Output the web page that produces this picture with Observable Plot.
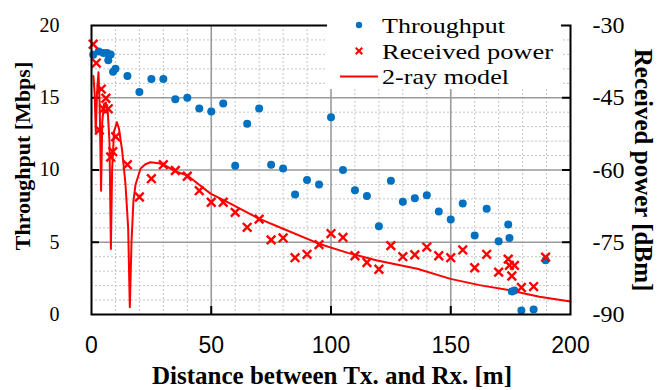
<!DOCTYPE html>
<html><head><meta charset="utf-8">
<script src="https://cdn.jsdelivr.net/npm/d3@7"></script>
<script src="https://cdn.jsdelivr.net/npm/@observablehq/plot@0.6"></script>
<style>body{margin:0;background:#fff}#chart{width:658px;height:390px}</style>
</head><body><div id="chart"></div>
<script>
// Throughput measurements [m], [Mbps]
const tpDist = [0.7,3,5,6.5,8,7,9,10,15,20,25,30,35,40,45,50,55,60,65,70,75,80,85,90,95,100,105,110,115,120,125,130,135,140,145,150,155,160,165,170,174,174.5,175.5,176.6,179.5,184.6,189.6];
const tpMbps = [17.97,18.2,18.1,18.1,18.0,17.6,16.8,17.0,16.5,15.4,16.3,16.3,14.9,15.0,14.25,14.05,14.6,10.3,13.2,14.25,10.36,10.1,8.3,9.3,9.0,13.65,10.0,8.6,8.2,6.1,9.25,7.8,8.05,8.26,7.13,6.57,7.68,5.47,7.31,5.07,6.23,5.3,1.6,1.66,0.28,0.35,3.76];
// Received power measurements [m], [dBm]
const rpDist = [0.7,2,3.3,4.1,5.0,6.0,7.0,8.0,8.9,10.1,15,20,25,30,35,40,45,50,55,60,65,70,75,80,85,90,95,100,105,110,115,120,125,130,135,140,145,150,155,160,165,170,174,174.5,176.6,175.5,179.5,184.6,189.6];
const rpDbm = [-33.9,-37.8,-51.7,-43.2,-47.3,-45.1,-47.3,-57.3,-56.2,-53.1,-58.9,-65.6,-61.8,-58.9,-60.1,-61.3,-64.3,-66.7,-66.7,-68.8,-71.9,-70.2,-74.5,-74.1,-78.2,-77.5,-75.5,-73.2,-74.0,-77.8,-79.2,-80.6,-75.7,-78.0,-77.6,-76.0,-77.8,-78.2,-76.6,-80.3,-77.5,-81.2,-78.5,-79.8,-79.8,-82.0,-84.4,-84.2,-78.1];
// 2-ray model curve [m], [dBm]
const modelDist = [0.8,1.3,1.8,2.3,2.9,3.4,4.0,4.5,5.2,6.0,6.8,7.5,8.1,8.6,9.4,10.6,11.5,12.8,14.2,15.3,16.0,16.7,17.5,18.4,20.5,22.5,24.6,28.1,30.2,35,39.9,49.7,58,69.9,80,94.9,107,119.3,136,149.9,162,175,187,200];
const modelDbm = [-40.5,-44,-52,-44,-39.7,-46,-64.3,-50,-46.3,-46.0,-48,-54,-76.4,-60,-52,-50.1,-51.5,-56,-63,-72,-88.5,-75,-66.5,-63,-59.7,-58.8,-58.4,-58.6,-58.9,-60.3,-61.1,-64.9,-67.0,-70.1,-72.2,-75.3,-77.2,-78.8,-80.5,-82.6,-83.9,-85.0,-86.3,-87.3];
// Axes
const xTicks = [0,50,100,150,200];
const yLeftTicks = [0,5,10,15,20];
const yRightTicks = [-90,-75,-60,-45,-30];
const xMinor = [10,20,30,40,60,70,80,90,110,120,130,140,160,170,180,190];
const yMinor = [1,2,3,4,6,7,8,9,11,12,13,14,16,17,18,19];
const xMajor = [50,100,150];
const yMajor = [5,10,15];
// Legend
const legendLabels = ["Throughput", "Received power", "2-ray model"];

const toLeft = p => (p + 90) / 3; // dBm -> throughput-axis position
const tp = tpDist.map((x,i) => ({x, y: tpMbps[i]}));
const rp = rpDist.map((x,i) => ({x, y: toLeft(rpDbm[i])}));
const model = modelDist.map((x,i) => ({x, y: toLeft(modelDbm[i])}));
const rightPos = yRightTicks.map(toLeft);
const rightLabel = new Map(rightPos.map((p,i) => [p, String(yRightTicks[i])]));

const W = 658, H = 390, mL = 91, mR = 88, mT = 25, mB = 76;
const pw = W - mL - mR, ph = H - mT - mB;
const blue = "#0070C0", red = "#FF0000";
const serif = "'Liberation Serif', 'Times New Roman', serif";

const svg = Plot.plot({
  width: W, height: H,
  marginLeft: mL, marginRight: mR, marginTop: mT, marginBottom: mB,
  x: {domain: [0, 200]},
  y: {domain: [0, 20]},
  style: {background: "white", fontFamily: serif, color: "black"},
  marks: [
    Plot.ruleY(yMinor, {stroke: "#c4c4c4", strokeWidth: 1, strokeDasharray: "2,2"}),
    Plot.ruleX(xMinor, {stroke: "#c4c4c4", strokeWidth: 1, strokeDasharray: "2,2"}),
    Plot.ruleY(yMajor, {stroke: "#9a9a9a", strokeWidth: 1.6}),
    Plot.ruleX(xMajor, {stroke: "#9a9a9a", strokeWidth: 1.6}),
    Plot.ruleX(xMajor, {insetTop: ph - 8, stroke: "black", strokeWidth: 2}),
    Plot.ruleY(yMajor, {insetRight: pw - 8, stroke: "black", strokeWidth: 2}),
    Plot.ruleY(yMajor, {insetLeft: pw - 8, stroke: "black", strokeWidth: 2}),
    Plot.axisX(xTicks, {tickSize: 0, tickPadding: 22, fontSize: 23, fontFamily: "'Liberation Sans', Arial, sans-serif", label: null}),
    Plot.axisY(yLeftTicks, {anchor: "left", tickSize: 0, tickPadding: 32, fontSize: 20, fontFamily: serif, label: null}),
    Plot.axisY(rightPos, {anchor: "right", tickSize: 0, tickPadding: 22, fontSize: 24, fontFamily: serif, tickFormat: d => rightLabel.get(d), label: null}),
    Plot.line(model, {x: "x", y: "y", stroke: red, strokeWidth: 2, curve: "linear"}),
    Plot.dot(tp, {x: "x", y: "y", r: 4, fill: blue}),
    Plot.dot(rp, {x: "x", y: "y", symbol: "times", r: 4, stroke: red, strokeWidth: 2.4}),
    Plot.frame({stroke: "black", strokeWidth: 2})
  ]
});

const s = d3.select(svg);
// Axis titles
s.append("text").attr("transform", "translate(30,156) rotate(-90)")
  .attr("text-anchor", "middle").attr("font-family", serif).attr("font-weight", "bold")
  .attr("font-size", 22).attr("fill", "black").text("Throughput [Mbps]");
s.append("text").attr("transform", "translate(635,170) rotate(90)")
  .attr("text-anchor", "middle").attr("font-family", serif).attr("font-weight", "bold")
  .attr("font-size", 25).attr("fill", "black").text("Received power [dBm]");
s.append("text").attr("x", 332).attr("y", 384)
  .attr("text-anchor", "middle").attr("font-family", serif).attr("font-weight", "bold")
  .attr("font-size", 25).attr("fill", "black").text("Distance between Tx. and Rx. [m]");

// Legend
const lg = s.append("g");
lg.append("rect").attr("x", 327).attr("y", 21).attr("width", 234).attr("height", 68).attr("fill", "white");
lg.append("circle").attr("cx", 359).attr("cy", 25).attr("r", 3.2).attr("fill", blue);
lg.append("path").attr("d", d3.symbol(d3.symbolTimes, 30)()).attr("transform", "translate(359,51)")
  .attr("fill", "none").attr("stroke", red).attr("stroke-width", 2);
lg.append("line").attr("x1", 340).attr("x2", 378).attr("y1", 76.5).attr("y2", 76.5)
  .attr("stroke", red).attr("stroke-width", 2);
const legendBase = [32.5, 58.5, 84];
const legendWidth = [123, 171, 127];
legendLabels.forEach((t, i) => {
  lg.append("text").attr("x", 382).attr("y", legendBase[i]).attr("text-anchor", "start")
    .attr("font-family", serif).attr("font-size", 22)
    .attr("textLength", legendWidth[i]).attr("lengthAdjust", "spacingAndGlyphs")
    .attr("fill", "black").text(t);
});

document.getElementById("chart").appendChild(svg);
</script>
</body></html>
